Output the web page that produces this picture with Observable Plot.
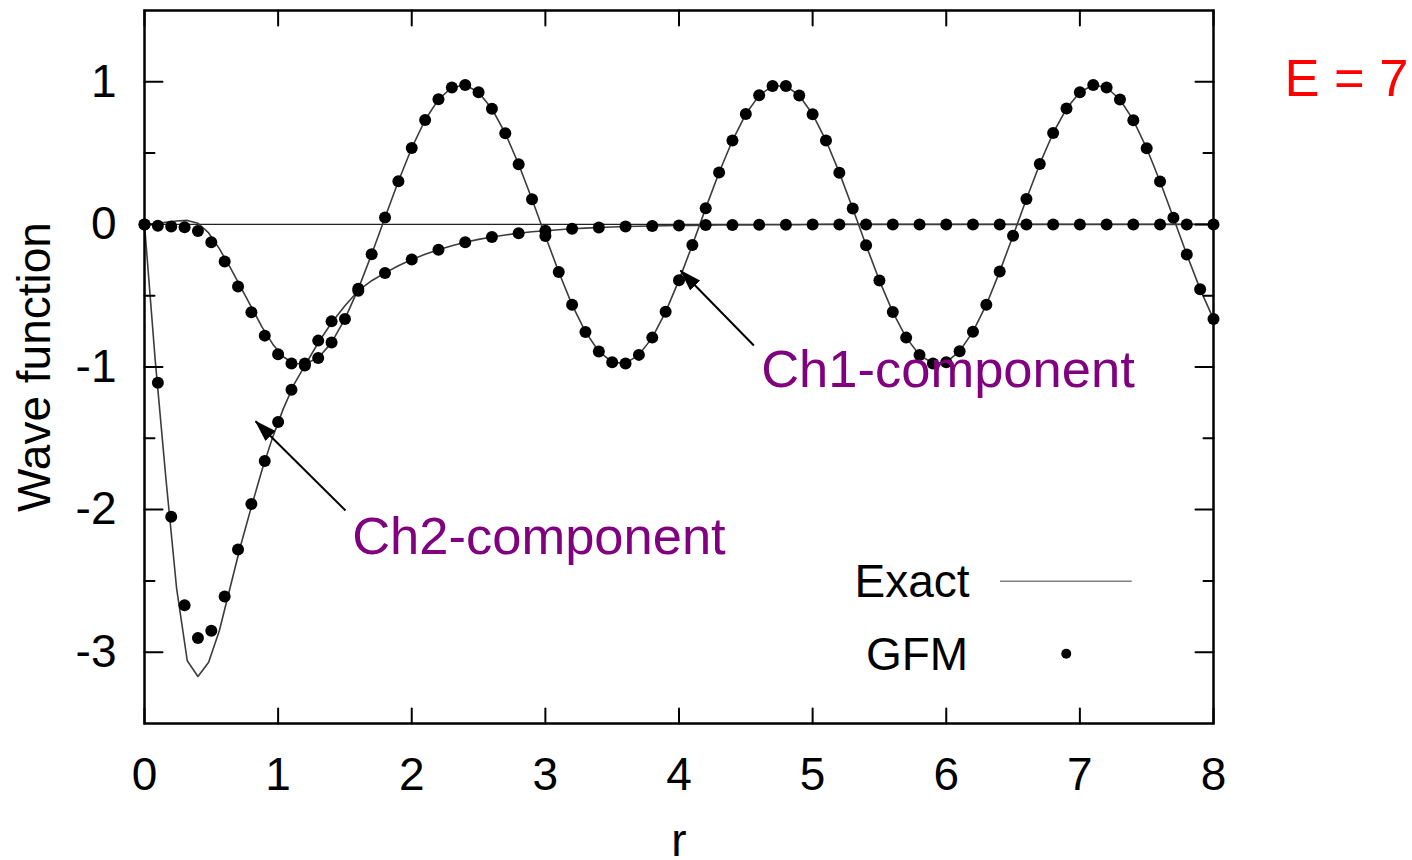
<!DOCTYPE html>
<html>
<head>
<meta charset="utf-8">
<script src="https://cdn.jsdelivr.net/npm/d3@7"></script>
<script src="https://cdn.jsdelivr.net/npm/@observablehq/plot@0.6"></script>
<style>
  html, body { margin: 0; padding: 0; background: #fff; }
  #chart svg { display: block; }
</style>
</head>
<body>
<div id="chart"></div>
<script>
// ---- data ----
const xTicks = [0, 1, 2, 3, 4, 5, 6, 7, 8];
const yTicks = [1, 0, -1, -2, -3];
const yMinorTicks = [0.5, -0.5, -1.5, -2.5];

// GFM, Ch1-component (r step 0.1)
const rCh1 = [0,0.1,0.2,0.3,0.4,0.5,0.6,0.7,0.8,0.9,1,1.1,1.2,1.3,1.4,1.5,1.6,1.7,1.8,1.9,2,2.1,2.2,2.3,2.4,2.5,2.6,2.7,2.8,2.9,3,3.1,3.2,3.3,3.4,3.5,3.6,3.7,3.8,3.9,4,4.1,4.2,4.3,4.4,4.5,4.6,4.7,4.8,4.9,5,5.1,5.2,5.3,5.4,5.5,5.6,5.7,5.8,5.9,6,6.1,6.2,6.3,6.4,6.5,6.6,6.7,6.8,6.9,7,7.1,7.2,7.3,7.4,7.5,7.6,7.7,7.8,7.9,8];
const gfmCh1 = [0,-0.01,-0.015,-0.02,-0.047,-0.126,-0.26,-0.436,-0.616,-0.78,-0.91,-0.975,-0.975,
  -0.937,-0.829,-0.663,-0.452,-0.209,0.049,0.303,0.536,0.732,0.877,
  0.960,0.978,0.927,0.811,0.639,0.422,0.176,-0.081,-0.334,-0.564,
  -0.754,-0.891,-0.966,-0.975,-0.915,-0.794,-0.613,-0.391,-0.144,0.114,
  0.364,0.588,0.774,0.905,0.971,0.971,0.904,0.773,0.588,0.363,
  0.112,-0.146,-0.394,-0.615,-0.794,-0.916,-0.975,-0.966,-0.890,-0.752,
  -0.563,-0.331,-0.079,0.178,0.424,0.641,0.812,0.927,0.978,0.960,
  0.876,0.731,0.534,0.301,0.047,-0.211,-0.454,-0.664];

// GFM, Ch2-component
const rCh2 = [0,0.1,0.2,0.3,0.4,0.5,0.6,0.7,0.8,0.9,1,1.1,1.2,1.3,1.4,
  1.6,1.8,2,2.2,2.4,2.6,2.8,3,3.2,3.4,3.6,3.8,4,4.2,4.4,4.6,4.8,5,
  5.2,5.4,5.6,5.8,6,6.2,6.4,6.6,6.8,7,7.2,7.4,7.6,7.8,8];
const gfmCh2 = [0,-1.11,-2.05,-2.67,-2.9,-2.85,-2.61,-2.28,-1.96,-1.66,-1.385,-1.16,-0.99,-0.815,-0.68,
  -0.465,-0.34,-0.246,-0.178,-0.125,-0.088,-0.062,-0.044,-0.031,-0.022,-0.015,-0.011,-0.008,-0.005,-0.004,-0.003,-0.002,-0.001,
  0,0,0,0,0,0,0,0,0,0,0,0,0,0,0];

// Exact solution (sampled finer near the origin)
const rExactNear = [0,0.08,0.16,0.24,0.32,0.4,0.48,0.56,0.64,0.72,0.8,0.88,0.96,1.04,1.12,1.2];
const exactCh1Near = [0,0.004,0.014,0.024,0.028,0.008,-0.06,-0.17,-0.3,-0.44,-0.58,-0.72,-0.84,-0.93,-0.975,-0.978];
const exactCh2Near = [0,-0.95,-1.78,-2.55,-3.06,-3.17,-3.07,-2.85,-2.55,-2.25,-1.98,-1.72,-1.49,-1.29,-1.12,-0.99];
const exactCh2Far = [-0.83,-0.69,-0.57,-0.465,-0.395,-0.34,-0.29,-0.246,-0.21,-0.178,
  -0.15,-0.125,-0.105,-0.088,-0.074,-0.062,-0.052,-0.044,-0.037,-0.031,
  -0.026,-0.022,-0.018,-0.015,-0.013,-0.011,-0.009,-0.008,-0.007,-0.005,
  -0.004,-0.004,-0.003,-0.003,-0.002,-0.002,-0.002,-0.001,
  0,0,0,0,0,0,0,0,0,0,0,0,0,0,0,0,0,0,0,0,0,0,0,0,0,0,0,0,0,0];

// ---- build tables ----
const rExact = rExactNear.concat(rCh1.slice(13));
const exactCh1 = exactCh1Near.concat(gfmCh1.slice(13));
const exactCh2 = exactCh2Near.concat(exactCh2Far);

const zip = (xs, ys) => xs.map((x, i) => ({r: x, v: ys[i]})).filter(d => d.v !== undefined);
const exact1 = zip(rExact, exactCh1);
const exact2 = zip(rExact, exactCh2);
const dots1 = zip(rCh1, gfmCh1);
const dots2 = zip(rCh2, gfmCh2);

const FONT = "'Liberation Sans', Arial, Helvetica, sans-serif";
const tickShape = {draw(context, l) { context.moveTo(0, 0); context.lineTo(0, -l); }};
const lineColor = "#3c3c3c";

const chart = Plot.plot({
  width: 1412,
  height: 860,
  marginLeft: 144,
  marginRight: 199,
  marginTop: 10,
  marginBottom: 137,
  style: {fontFamily: FONT, background: "#fff", color: "#000", overflow: "visible"},
  x: {domain: [0, 8]},
  y: {domain: [-3.5, 1.5]},
  marks: [
    Plot.ruleY([0], {stroke: "#222", strokeWidth: 1.2}),
    Plot.line(exact1, {x: "r", y: "v", stroke: lineColor, strokeWidth: 1.6}),
    Plot.line(exact2, {x: "r", y: "v", stroke: lineColor, strokeWidth: 1.6}),
    Plot.dot(dots1, {x: "r", y: "v", r: 6, fill: "#000", stroke: "none"}),
    Plot.dot(dots2, {x: "r", y: "v", r: 6, fill: "#000", stroke: "none"}),
    // frame and inward ticks (mirrored)
    Plot.frame({stroke: "#000", strokeWidth: 2.5}),
    Plot.vector(xTicks, {x: d => d, frameAnchor: "bottom", anchor: "start", length: 15, rotate: 0, shape: tickShape, stroke: "#000", strokeWidth: 2}),
    Plot.vector(xTicks, {x: d => d, frameAnchor: "top", anchor: "start", length: 15, rotate: 180, shape: tickShape, stroke: "#000", strokeWidth: 2}),
    Plot.vector(yTicks, {y: d => d, frameAnchor: "left", anchor: "start", length: 18, rotate: 90, shape: tickShape, stroke: "#000", strokeWidth: 2}),
    Plot.vector(yTicks, {y: d => d, frameAnchor: "right", anchor: "start", length: 18, rotate: -90, shape: tickShape, stroke: "#000", strokeWidth: 2}),
    Plot.vector(yMinorTicks, {y: d => d, frameAnchor: "left", anchor: "start", length: 10, rotate: 90, shape: tickShape, stroke: "#000", strokeWidth: 2}),
    Plot.vector(yMinorTicks, {y: d => d, frameAnchor: "right", anchor: "start", length: 10, rotate: -90, shape: tickShape, stroke: "#000", strokeWidth: 2}),
    // tick labels
    Plot.axisX(xTicks, {anchor: "bottom", tickSize: 0, tickPadding: 34, fontSize: 46, tickFormat: d => String(d), label: null}),
    Plot.axisY(yTicks, {anchor: "left", tickSize: 0, tickPadding: 28, fontSize: 46, tickFormat: d => String(d), label: null}),
    // axis titles
    Plot.text(["r"], {frameAnchor: "bottom", dy: 132, textAnchor: "middle", lineAnchor: "bottom", fontSize: 46, fill: "#000"}),
    Plot.text(["Wave function"], {frameAnchor: "left", dx: -109, rotate: -90, textAnchor: "middle", lineAnchor: "middle", fontSize: 46, fill: "#000"}),
    // annotations
    Plot.link([0], {x1: 1.504, y1: -2.006, x2: 0.831, y2: -1.380, stroke: "#000", strokeWidth: 2, ariaDescription: "callout"}),
    Plot.link([0], {x1: 4.560, y1: -0.849, x2: 4.011, y2: -0.323, stroke: "#000", strokeWidth: 2, ariaDescription: "callout"}),
    Plot.text(["Ch2-component"], {x: 1.554, y: -2.310, textAnchor: "start", lineAnchor: "bottom", fontSize: 52.5, fill: "#800080"}),
    Plot.text(["Ch1-component"], {x: 4.615, y: -1.137, textAnchor: "start", lineAnchor: "bottom", fontSize: 52.5, fill: "#800080"}),
    Plot.text(["E = 7"], {x: 8.531, y: 0.897, textAnchor: "start", lineAnchor: "bottom", fontSize: 52.5, fill: "#ff0000"}),
    // legend
    Plot.text(["Exact"], {x: 6.174, y: -2.616, textAnchor: "end", lineAnchor: "bottom", fontSize: 46, fill: "#000"}),
    Plot.ruleY([-2.502], {x1: 6.406, x2: 7.392, stroke: "#808080", strokeWidth: 1.6}),
    Plot.text(["GFM"], {x: 6.164, y: -3.128, textAnchor: "end", lineAnchor: "bottom", fontSize: 46, fill: "#000"}),
    Plot.dot([0], {x: 6.898, y: -3.011, r: 5, fill: "#000", stroke: "none"})
  ]
});

// filled arrowheads for the callouts
const ns = "http://www.w3.org/2000/svg";
const defs = document.createElementNS(ns, "defs");
const marker = document.createElementNS(ns, "marker");
marker.setAttribute("id", "ahead");
marker.setAttribute("markerUnits", "userSpaceOnUse");
marker.setAttribute("viewBox", "0 0 22 14");
marker.setAttribute("markerWidth", "22");
marker.setAttribute("markerHeight", "14");
marker.setAttribute("refX", "21");
marker.setAttribute("refY", "7");
marker.setAttribute("orient", "auto");
const mp = document.createElementNS(ns, "path");
mp.setAttribute("d", "M0,0L22,7L0,14Z");
mp.setAttribute("fill", "#000");
marker.appendChild(mp);
defs.appendChild(marker);
chart.insertBefore(defs, chart.firstChild);
chart.querySelectorAll('g[aria-description="callout"] path').forEach(p => p.setAttribute("marker-end", "url(#ahead)"));

document.getElementById("chart").appendChild(chart);
</script>
</body>
</html>
